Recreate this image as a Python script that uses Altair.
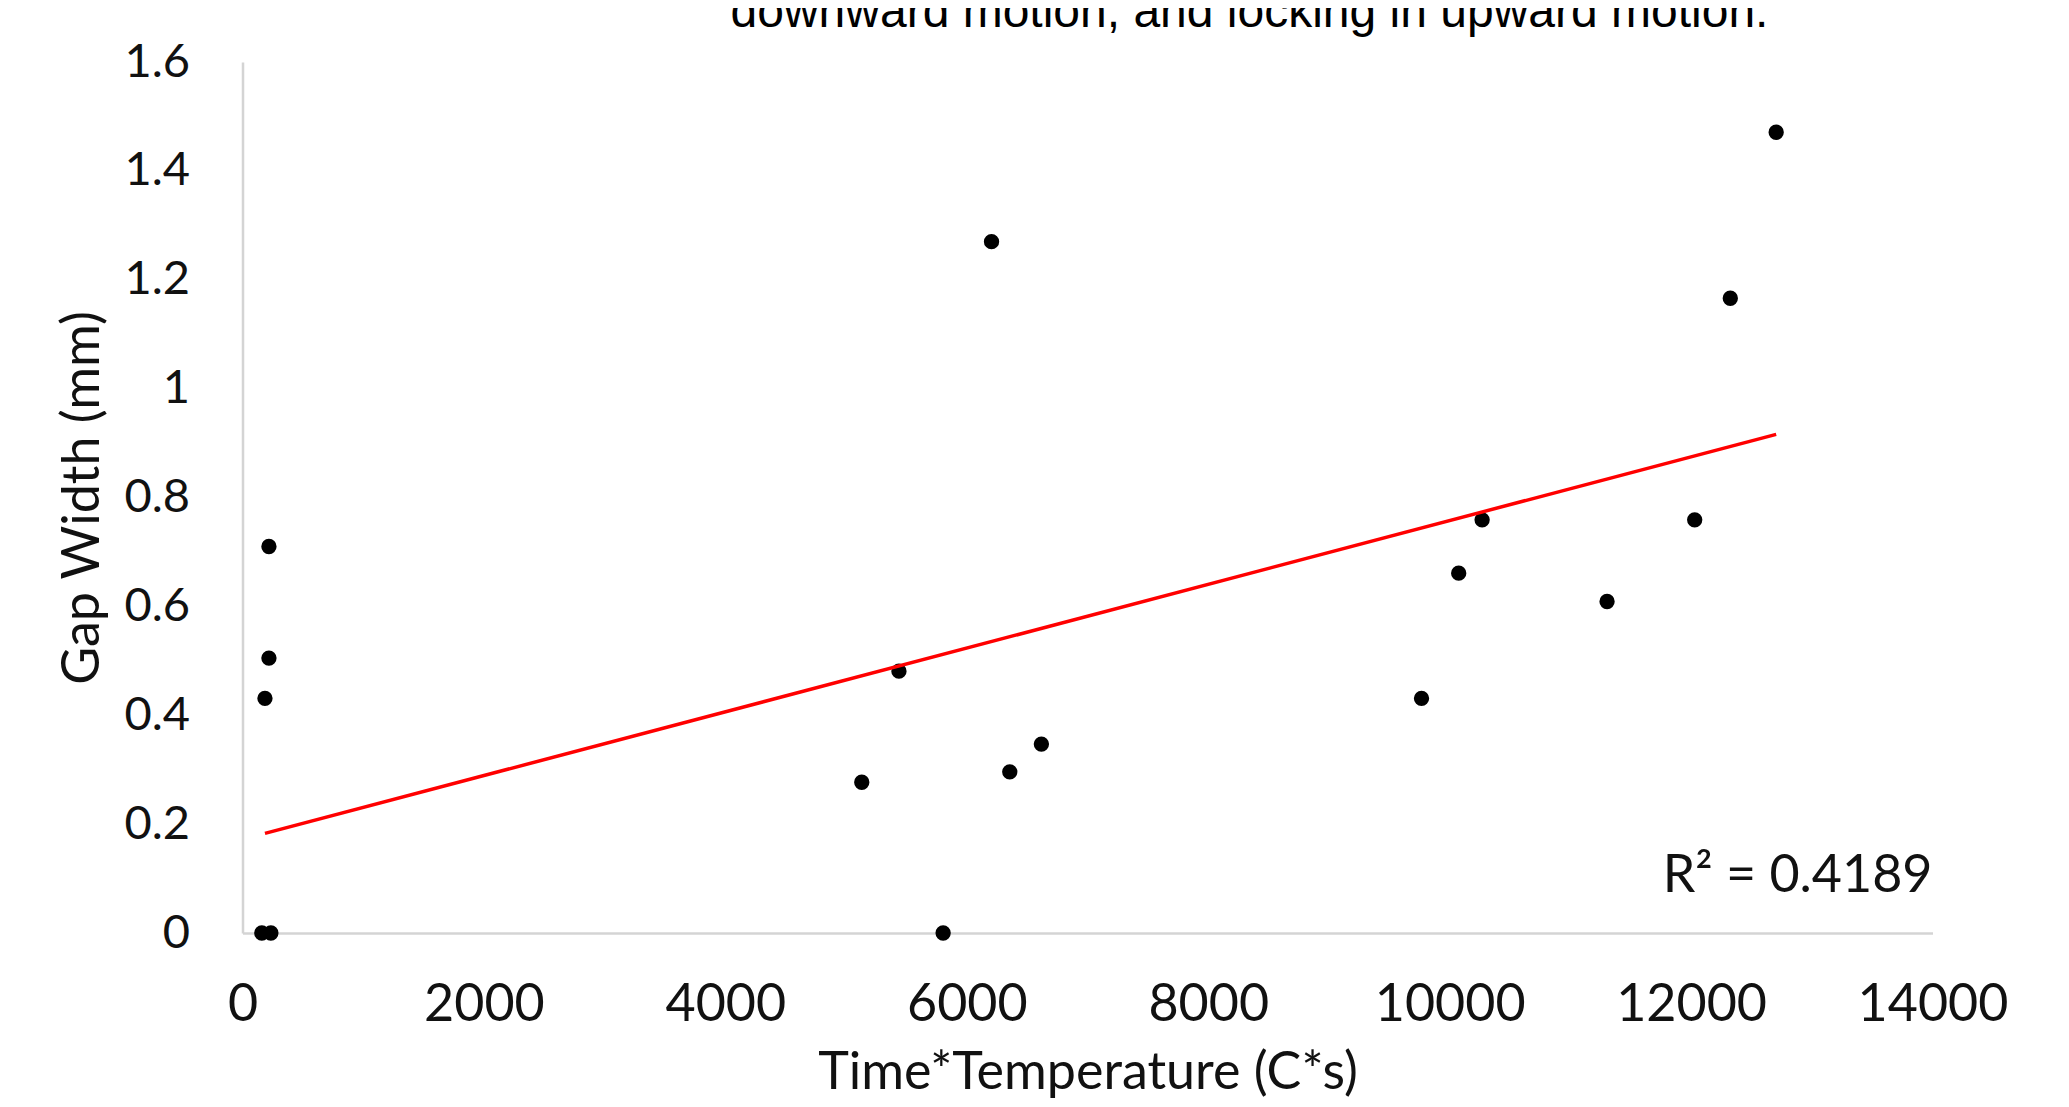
import altair as alt
import pandas as pd

# Scatter data (Time*Temperature in C*s, Gap Width in mm)
time_temp = [219, 219, 186, 160, 235, 6205, 5438, 5130, 5804, 6356, 6618,
             9767, 10075, 10269, 11304, 12030, 12325, 12705]
gap_width = [0.710, 0.505, 0.431, 0.0, 0.0, 1.270, 0.481, 0.277, 0.0, 0.296, 0.347,
             0.431, 0.661, 0.759, 0.609, 0.759, 1.166, 1.471]

# Linear trendline end points as drawn
trend_x = [186, 12705]
trend_y = [0.183, 0.916]

# Tick values
x_ticks = [0, 2000, 4000, 6000, 8000, 10000, 12000, 14000]
y_ticks = [0, 0.2, 0.4, 0.6, 0.8, 1.0, 1.2, 1.4, 1.6]

# Texts
x_title = "Time*Temperature (C*s)"
y_title = "Gap Width (mm)"
r2_label = ["R\u00b2 = 0.4189"]
top_text = ["downward motion, and locking in upward motion."]

df = pd.DataFrame({"tt": time_temp, "gap": gap_width})
trend_df = pd.DataFrame({"tt": trend_x, "gap": trend_y})
r2_df = pd.DataFrame({"label": r2_label})
top_df = pd.DataFrame({"label": top_text})

W, H = 1690, 871
FONT = "Lato"

x_enc = alt.X(
    "tt:Q",
    title=x_title,
    scale=alt.Scale(domain=[0, 14000], nice=False, zero=True),
    axis=alt.Axis(
        values=x_ticks, format="d", grid=False, ticks=False,
        domainColor="#d4d4d4", domainWidth=2.5,
        labelFont=FONT, labelFontSize=52, labelColor="#111111", labelPadding=46,
        labelFlush=False, labelOverlap=False,
        titleFont=FONT, titleFontSize=52, titleFontWeight="normal", titleColor="#111111",
        titleX=W / 2, titleY=155, titleBaseline="alphabetic", titleAlign="center",
    ),
)
y_enc = alt.Y(
    "gap:Q",
    title=y_title,
    scale=alt.Scale(domain=[0, 1.6], nice=False),
    axis=alt.Axis(
        values=y_ticks, format="~g", grid=False, ticks=False,
        domainColor="#d4d4d4", domainWidth=2.5,
        labelFont=FONT, labelFontSize=47, labelColor="#111111", labelPadding=53,
        labelFlush=False, labelOverlap=False,
        titleFont=FONT, titleFontSize=52, titleFontWeight="normal", titleColor="#111111",
        titleX=-160, titleY=H / 2, titleAngle=-90, titleBaseline="middle", titleAlign="center",
    ),
)

points = alt.Chart(df).mark_circle(size=235, color="black", opacity=1).encode(x=x_enc, y=y_enc)

trend = alt.Chart(trend_df).mark_line(color="#ff0000", strokeWidth=3.5).encode(
    x=alt.X("tt:Q"), y=alt.Y("gap:Q")
)

r2 = alt.Chart(r2_df).mark_text(
    font=FONT, fontSize=52, color="#111111", align="right", baseline="alphabetic"
).encode(x=alt.value(W), y=alt.value(830), text="label:N")

top = alt.Chart(top_df).mark_text(
    font="Liberation Sans", fontSize=48, color="#000000", align="center", baseline="alphabetic"
).encode(x=alt.value(1007), y=alt.value(-35), text="label:N")

chart = alt.layer(points, trend, r2, top).properties(
    width=W,
    height=H,
    autosize=alt.AutoSizeParams(type="none"),
    padding={"left": 234.5, "top": 54, "right": 110, "bottom": 166},
).configure_view(stroke=None)

chart.save("out.html", embed_options={"renderer": "svg", "actions": False})
